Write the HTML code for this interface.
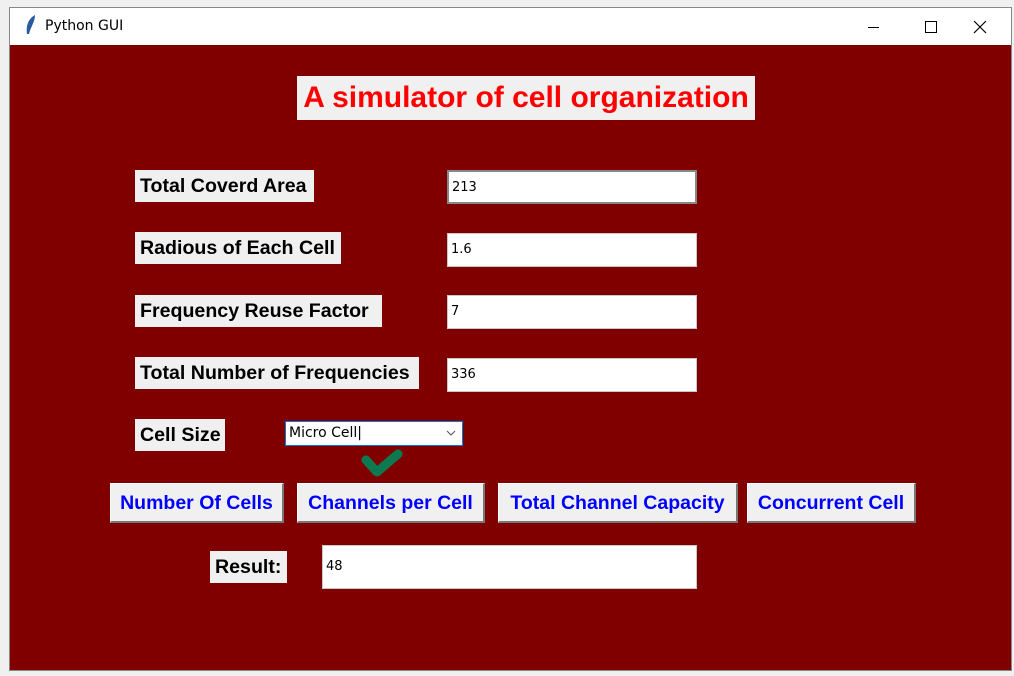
<!DOCTYPE html>
<html><head><meta charset="utf-8"><style>
body{margin:0;width:1014px;height:676px;background:#f0f0f0;position:relative;overflow:hidden;font-family:"Liberation Sans",sans-serif}
div,span{position:absolute;box-sizing:border-box}
.lbl{background:#f0f0f0;color:#000;font-weight:bold;font-size:19.6px;padding:0 5px;line-height:32px;height:32px;white-space:nowrap}
.ent{background:#fff;border:1px solid #c8c8c8;font-size:13px;padding-left:3px;line-height:32px;height:34px;font-family:"DejaVu Sans",sans-serif}
.btn{background:#f0f0f0;color:#0000ff;font-weight:bold;font-size:19.5px;text-align:center;line-height:38px;height:40px;border-right:2px solid #777;border-bottom:2px solid #777;border-top:1px solid #fff;border-left:1px solid #fff;white-space:nowrap}
</style></head><body>
<div style="left:9px;top:7px;width:1003px;height:664px;border:1px solid #888;background:#800000"></div>
<div style="left:10px;top:8px;width:1001px;height:37px;background:#fff">
<svg style="position:absolute;left:14px;top:6px" width="14" height="22"><path d="M11 1 C4 5 2 12 3 20 L5 20 C7 12 11 8 11 1Z" fill="#2a5aa0"/></svg>
<span style="left:35px;top:10px;font-size:14px;font-family:'DejaVu Sans',sans-serif;color:#000">Python GUI</span>
<span style="left:858px;top:19px;width:11px;height:1px;background:#000"></span>
<span style="left:915px;top:13px;width:12px;height:12px;border:1px solid #000"></span>
<svg style="position:absolute;left:963px;top:12px" width="14" height="14"><path d="M1 1L13 13M13 1L1 13" stroke="#000" stroke-width="1.2"/></svg>
</div>
<div style="left:297px;top:76px;width:458px;height:44px;background:#f0f0f0;color:#ff0000;font-weight:bold;font-size:30px;line-height:44px;text-align:center;white-space:nowrap">A simulator of cell organization</div>

<div class="lbl" style="left:135px;top:170px;width:179px">Total Coverd Area</div>
<div class="ent" style="left:447px;top:170px;width:250px;border:2px solid #888">213</div>
<div class="lbl" style="left:135px;top:232px;width:206px">Radious of Each Cell</div>
<div class="ent" style="left:447px;top:233px;width:250px">1.6</div>
<div class="lbl" style="left:135px;top:295px;width:247px">Frequency Reuse Factor</div>
<div class="ent" style="left:447px;top:295px;width:250px">7</div>
<div class="lbl" style="left:135px;top:357px;width:284px">Total Number of Frequencies</div>
<div class="ent" style="left:447px;top:358px;width:250px">336</div>
<div class="lbl" style="left:135px;top:419px;width:90px">Cell Size</div>
<div style="left:285px;top:421px;width:178px;height:25px;background:#fff;border:1px solid #0078d7;font-size:14px;line-height:23px;padding-left:3px;font-family:'DejaVu Sans',sans-serif">Micro Cell|<svg style="position:absolute;right:6px;top:8px" width="10" height="7"><path d="M1 1L5 5L9 1" fill="none" stroke="#555"/></svg></div>
<svg style="position:absolute;left:360px;top:446px" width="46" height="34"><path d="M6 14 L17 26 L38 8" fill="none" stroke="#0b7a50" stroke-width="9" stroke-linecap="round" stroke-linejoin="round"/></svg>

<div class="btn" style="left:110px;top:483px;width:174px">Number Of Cells</div>
<div class="btn" style="left:297px;top:483px;width:188px">Channels per Cell</div>
<div class="btn" style="left:498px;top:483px;width:240px">Total Channel Capacity</div>
<div class="btn" style="left:747px;top:483px;width:169px">Concurrent Cell</div>

<div class="lbl" style="left:210px;top:551px;width:77px">Result:</div>
<div class="ent" style="left:322px;top:545px;width:375px;height:44px;line-height:42px">48</div>
</body></html>
